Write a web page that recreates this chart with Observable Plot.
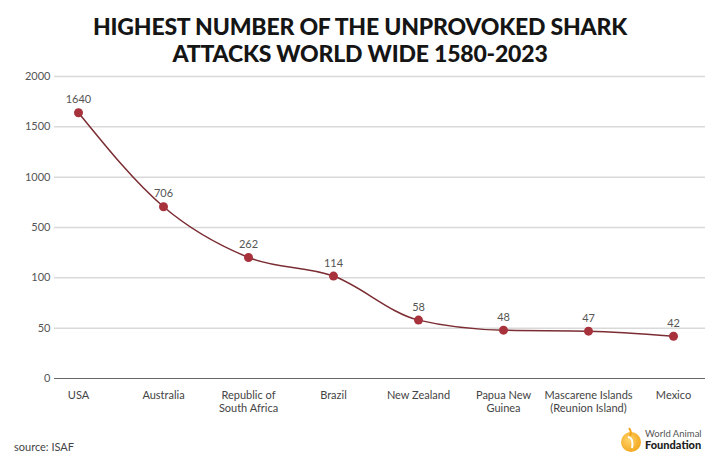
<!DOCTYPE html>
<html>
<head>
<meta charset="utf-8">
<script src="https://cdn.jsdelivr.net/npm/d3@7"></script>
<script src="https://cdn.jsdelivr.net/npm/@observablehq/plot@0.6"></script>
<style>
  body { margin: 0; background: #fff; font-family: Lato, "Open Sans", sans-serif; }
  #wrap { position: relative; width: 720px; height: 462px; overflow: hidden; }
  #title { position: absolute; top: 13px; left: 0; width: 720px; text-align: center;
           font-family: Lato, sans-serif; font-weight: 900; font-size: 23px; line-height: 27px;
           color: #151515; letter-spacing: -0.2px; }
  #chart { position: absolute; top: 68px; left: 0; }
  #source { position: absolute; left: 14px; top: 440px; font-size: 11px; color: #444; }
  #logo { position: absolute; left: 620px; top: 424px; display: flex; align-items: center; }
  #logo .t1 { font-size: 9.5px; color: #555; line-height: 11px; }
  #logo .t2 { font-size: 11px; font-weight: 900; color: #222; line-height: 12px; }
</style>
</head>
<body>
<div id="wrap">
  <div id="title">HIGHEST NUMBER OF THE UNPROVOKED SHARK<br>ATTACKS WORLD WIDE 1580-2023</div>
  <div id="chart"></div>
  <div id="source">source: ISAF</div>
  <div id="logo">
    <svg width="22" height="30" viewBox="0 0 22 30">
      <defs><radialGradient id="g" cx="0.4" cy="0.4" r="0.7"><stop offset="0" stop-color="#ffd36a"/><stop offset="1" stop-color="#f2a316"/></radialGradient></defs>
      <circle cx="11" cy="18" r="10" fill="url(#g)"/>
      <path d="M9 4 Q12 8 10 12" stroke="#f2a316" stroke-width="2" fill="none"/>
      <path d="M8 13 Q14 14 12 24" stroke="#fff" stroke-width="2" fill="none"/>
    </svg>
    <div style="margin-left:3px"><div class="t1">World Animal</div><div class="t2">Foundation</div></div>
  </div>
</div>
<script>
const countries = ["USA", "Australia", "Republic of\nSouth Africa", "Brazil", "New Zealand",
  "Papua New\nGuinea", "Mascarene Islands\n(Reunion Island)", "Mexico"];
const attacks = [1640, 706, 262, 114, 58, 48, 47, 42];
const yTicks = [0, 50, 100, 500, 1000, 1500, 2000];

const data = countries.map((c, i) => ({country: c, value: attacks[i]}));

const H = 355, MT = 8, MB = 45;
// piecewise scale: equally spaced tick values
const yBottom = H - MB, yTop = MT;
const yRange = yTicks.map((_, i) => yBottom + (yTop - yBottom) * i / (yTicks.length - 1));

const plot = Plot.plot({
  width: 720,
  height: H,
  marginTop: MT,
  marginBottom: MB,
  marginLeft: 54,
  marginRight: 24,
  style: {fontFamily: "Lato, sans-serif", fontSize: "11px", color: "#555"},
  x: {type: "point", domain: countries, padding: 0.245, label: null},
  y: {type: "linear", domain: yTicks, range: yRange, label: null},
  marks: [
    Plot.ruleY(yTicks.filter(d => d > 0), {stroke: "#d9d9d9", strokeWidth: 1.5, insetRight: -9}),
    Plot.ruleY([0], {stroke: "#666", strokeWidth: 1.2, insetRight: -9}),
    Plot.axisY({ticks: yTicks, tickFormat: d => String(d), tickSize: 0, tickPadding: 4, fill: "#555", fontSize: 11, label: null}),
    Plot.axisX({tickSize: 0, tickPadding: 12, fill: "#444", fontSize: 11, label: null, lineHeight: 1.15}),
    Plot.line(data, {x: "country", y: "value", stroke: "#7b2d33", strokeWidth: 1.5, curve: "monotone-x"}),
    Plot.dot(data, {x: "country", y: "value", r: 4.5, fill: "#a8323c", stroke: "none"}),
    Plot.text(data, {x: "country", y: "value", text: d => String(d.value), dy: -13, fill: "#555", fontSize: 11})
  ]
});
document.getElementById("chart").appendChild(plot);
</script>
</body>
</html>
